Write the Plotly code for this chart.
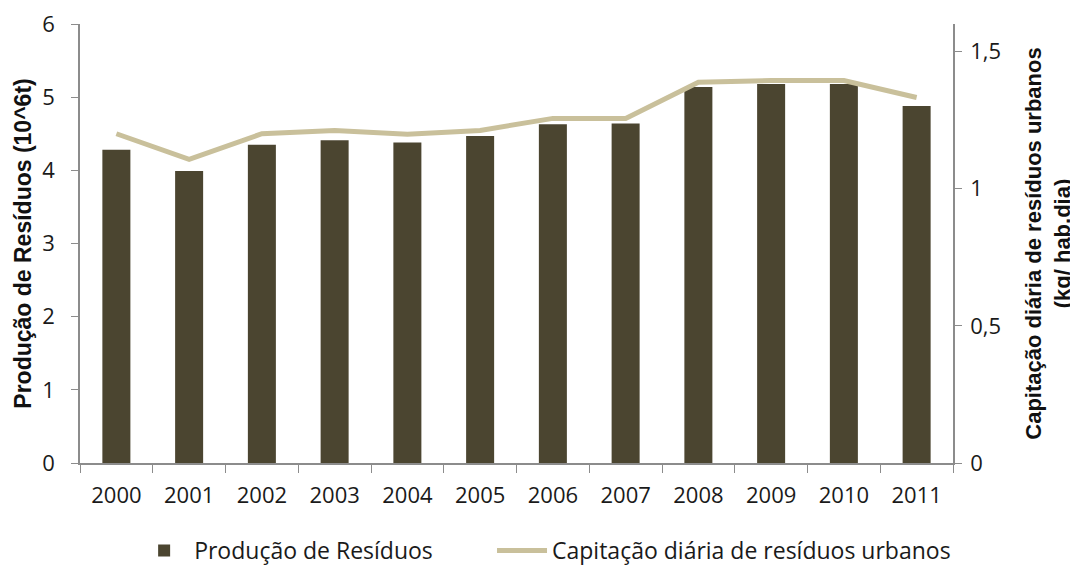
import plotly.graph_objects as go

anos = ["2000", "2001", "2002", "2003", "2004", "2005", "2006", "2007", "2008", "2009", "2010", "2011"]
producao = [4.28, 3.99, 4.35, 4.41, 4.38, 4.47, 4.63, 4.64, 5.14, 5.18, 5.18, 4.88]
capitacao = [1.20, 1.107, 1.20, 1.212, 1.198, 1.212, 1.256, 1.256, 1.388, 1.394, 1.394, 1.332]

left_ticks = [0, 1, 2, 3, 4, 5, 6]
right_ticks = [0, 0.5, 1, 1.5]
right_labels = ["0", "0,5", "1", "1,5"]

tick_font = dict(family="Open Sans, sans-serif", size=22, color="#1a1a1a")
left_title_font = dict(family="Liberation Sans, Arial, sans-serif", size=23, color="#111")
right_title_font = dict(family="Liberation Sans, Arial, sans-serif", size=22, color="#111")
legend_font = dict(family="Open Sans, sans-serif", size=23, color="#1a1a1a")

fig = go.Figure()
fig.add_trace(go.Bar(
    x=anos, y=producao, name="Produção de Resíduos",
    marker=dict(color="#4b4530", line=dict(width=0)),
    yaxis="y", legend="legend",
))
fig.add_trace(go.Scatter(
    x=anos, y=capitacao, name="Capitação diária de resíduos urbanos",
    mode="lines", line=dict(color="#c9c09b", width=5),
    yaxis="y2", legend="legend2",
))

fig.update_layout(
    width=1078, height=568,
    margin=dict(l=72, r=133, t=16, b=113),
    paper_bgcolor="white", plot_bgcolor="white",
    bargap=0.615,
    showlegend=True,
    legend=dict(orientation="h", xref="container", yref="container",
                x=0.117, xanchor="left", y=0.045, yanchor="middle",
                font=legend_font, itemwidth=50, bgcolor="rgba(0,0,0,0)"),
    legend2=dict(orientation="h", xref="container", yref="container",
                 x=0.449, xanchor="left", y=0.045, yanchor="middle",
                 font=legend_font, itemwidth=50, bgcolor="rgba(0,0,0,0)"),
    xaxis=dict(
        type="category", showline=True, linecolor="#8c8c8c", linewidth=1.5,
        ticks="outside", tickson="boundaries", ticklen=8, tickcolor="#8c8c8c",
        tickfont=tick_font, showgrid=False, automargin=False, ticklabelstandoff=12,
    ),
    yaxis=dict(
        range=[0, 6], tickvals=left_ticks, ticktext=[str(v) for v in left_ticks],
        showline=True, linecolor="#8c8c8c", linewidth=1.5,
        ticks="outside", ticklen=7, tickcolor="#8c8c8c",
        tickfont=tick_font, showgrid=False, zeroline=False, automargin=False,
        ticklabelstandoff=12, ticklabeloverflow="allow",
        title=dict(text="<b>Produção de Resíduos (10^6t)</b>", font=left_title_font, standoff=4),
    ),
    yaxis2=dict(
        range=[0, 1.6], tickvals=right_ticks, ticktext=right_labels,
        overlaying="y", side="right",
        showline=True, linecolor="#8c8c8c", linewidth=1.5,
        ticks="outside", ticklen=7, tickcolor="#8c8c8c",
        tickfont=tick_font, showgrid=False, zeroline=False, automargin=False,
        ticklabelstandoff=4, ticklabeloverflow="allow",
        title=dict(text="<b>Capitação diária de resíduos urbanos<br>(kg/ hab.dia)</b>", font=right_title_font, standoff=26),
    ),
)

fig.write_html("out.html")
